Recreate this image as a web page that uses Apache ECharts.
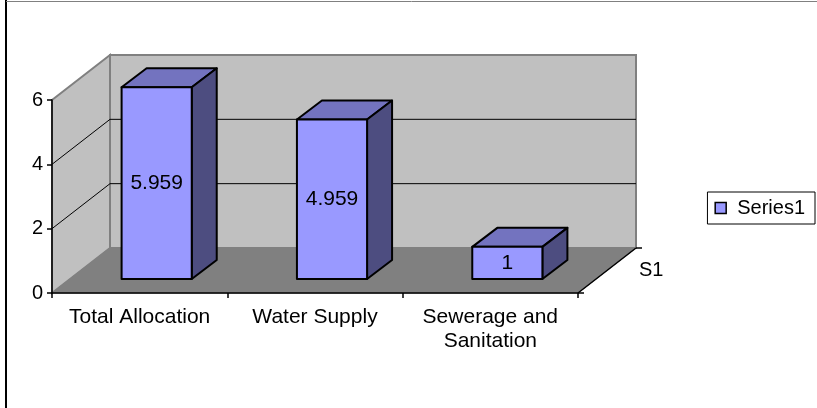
<!DOCTYPE html>
<html>
<head>
<meta charset="utf-8">
<script src="https://cdn.jsdelivr.net/npm/echarts@6/dist/echarts.min.js"></script>
<style>
  html, body { margin: 0; padding: 0; background: #fff; }
  #chart { width: 817px; height: 408px; }
</style>
</head>
<body>
<div id="chart"></div>
<script>
// data
const categories = ['Total Allocation', 'Water Supply', 'Sewerage and\nSanitation'];
const series1 = [5.959, 4.959, 1];
const yTicks = [0, 2, 4, 6];
const seriesName = 'Series1';
const depthLabel = 'S1';

// fake 3d look (pixels)
const DEPTH_X = 58, DEPTH_Y = -45;     // whole floor depth
const BAR_X = 17, BAR_Y = -14;         // bar front face offset
const BAR_DX = 25, BAR_DY = -19;       // bar thickness
const FONT = 'Arial, "Liberation Sans", sans-serif';

const chart = echarts.init(document.getElementById('chart'), null, { renderer: 'canvas' });

function renderWalls(params, api) {
  const cs = params.coordSys;
  const L = cs.x, R = cs.x + cs.width, T = cs.y, B = cs.y + cs.height;
  const dx = DEPTH_X, dy = DEPTH_Y;
  const children = [
    { type: 'polygon', shape: { points: [[L, T], [L + dx, T + dy], [L + dx, B + dy], [L, B]] },
      style: { fill: '#c0c0c0', stroke: '#808080', lineWidth: 2 } },
    { type: 'rect', shape: { x: L + dx, y: T + dy, width: R - L, height: B - T },
      style: { fill: '#c0c0c0', stroke: '#808080', lineWidth: 2 } },
    { type: 'polygon', shape: { points: [[L, B], [L + dx, B + dy], [R + dx, B + dy], [R, B]] },
      style: { fill: '#808080', stroke: '#808080', lineWidth: 1 } }
  ];
  yTicks.slice(1, -1).forEach(v => {
    const y = api.coord([0, v])[1];
    children.push({ type: 'polyline',
      shape: { points: [[L, y], [L + dx, y + dy], [R + dx, y + dy]] },
      style: { stroke: '#000', lineWidth: 1, fill: null } });
  });
  // depth axis
  children.push({ type: 'line', shape: { x1: R, y1: B, x2: R + dx, y2: B + dy },
    style: { stroke: '#000', lineWidth: 1.5 } });
  children.push({ type: 'line', shape: { x1: R + dx, y1: B + dy, x2: R + dx + 6, y2: B + dy },
    style: { stroke: '#000', lineWidth: 1.5 } });
  children.push({ type: 'line', shape: { x1: R, y1: B, x2: R + 6, y2: B },
    style: { stroke: '#000', lineWidth: 1.5 } });
  children.push({ type: 'text', x: R + dx + 3, y: B + dy / 2,
    style: { text: depthLabel, fill: '#000', font: '20px ' + FONT, textAlign: 'left', textVerticalAlign: 'middle' } });
  return { type: 'group', children: children };
}

function renderBar(params, api) {
  const idx = api.value(0), val = api.value(1);
  const top = api.coord([idx, val]);
  const base = api.coord([idx, 0]);
  const w = api.size([1, 0])[0] * 0.4;
  const x0 = top[0] - w / 2 + BAR_X, x1 = x0 + w;
  const yT = top[1] + BAR_Y, yB = base[1] + BAR_Y;
  const line = { stroke: '#000', lineWidth: 2, lineJoin: 'round' };
  return {
    type: 'group',
    children: [
      { type: 'polygon', shape: { points: [[x0, yT], [x0 + BAR_DX, yT + BAR_DY], [x1 + BAR_DX, yT + BAR_DY], [x1, yT]] },
        style: Object.assign({ fill: '#7373bf' }, line) },
      { type: 'polygon', shape: { points: [[x1, yT], [x1 + BAR_DX, yT + BAR_DY], [x1 + BAR_DX, yB + BAR_DY], [x1, yB]] },
        style: Object.assign({ fill: '#4d4d80' }, line) },
      { type: 'rect', shape: { x: x0, y: yT, width: w, height: yB - yT },
        style: Object.assign({ fill: '#9999ff' }, line) },
      { type: 'text', x: (x0 + x1) / 2, y: (yT + yB) / 2,
        style: { text: String(val), fill: '#000', font: '21px ' + FONT, textAlign: 'center', textVerticalAlign: 'middle' } }
    ]
  };
}

chart.setOption({
  animation: false,
  backgroundColor: '#fff',
  textStyle: { fontFamily: FONT },
  grid: { left: 52, right: 239, top: 100, bottom: 115, containLabel: false },
  legend: {
    data: [seriesName],
    right: 2, top: 192,
    orient: 'vertical',
    icon: 'rect',
    itemWidth: 11, itemHeight: 11,
    itemStyle: { borderColor: '#000', borderWidth: 1.5 },
    borderColor: '#000', borderWidth: 1,
    padding: [6, 10, 6, 7],
    textStyle: { fontSize: 20, color: '#000', fontFamily: FONT, padding: [0, 0, 0, 6] }
  },
  xAxis: {
    type: 'category',
    data: categories,
    z: 5,
    axisLine: { lineStyle: { color: '#000', width: 1.5 } },
    axisTick: { show: true, length: 5, lineStyle: { color: '#000', width: 1.5 } },
    axisLabel: { interval: 0, fontSize: 21, color: '#000', margin: 12, lineHeight: 24, fontFamily: FONT }
  },
  yAxis: {
    type: 'value',
    min: 0, max: 6, interval: 2,
    z: 5,
    axisLine: { show: true, lineStyle: { color: '#000', width: 1.5 } },
    axisTick: { show: true, length: 5, lineStyle: { color: '#000', width: 1.5 } },
    axisLabel: { fontSize: 20, color: '#000', margin: 9, fontFamily: FONT },
    splitLine: { show: false }
  },
  graphic: [
    { type: 'line', shape: { x1: 6, y1: 0, x2: 6, y2: 408 }, style: { stroke: '#000', lineWidth: 2 } },
    { type: 'line', shape: { x1: 6, y1: 1.5, x2: 817, y2: 1.5 }, style: { stroke: '#808080', lineWidth: 1 } }
  ],
  series: [
    { name: 'walls', type: 'custom', z: 1, silent: true,
      renderItem: renderWalls, data: [[0, 0]] },
    { name: seriesName, type: 'custom', z: 3,
      itemStyle: { color: '#9999ff', borderColor: '#000' },
      renderItem: renderBar,
      encode: { x: 0, y: 1 },
      data: series1.map((v, i) => [i, v]) }
  ]
});
</script>
</body>
</html>
